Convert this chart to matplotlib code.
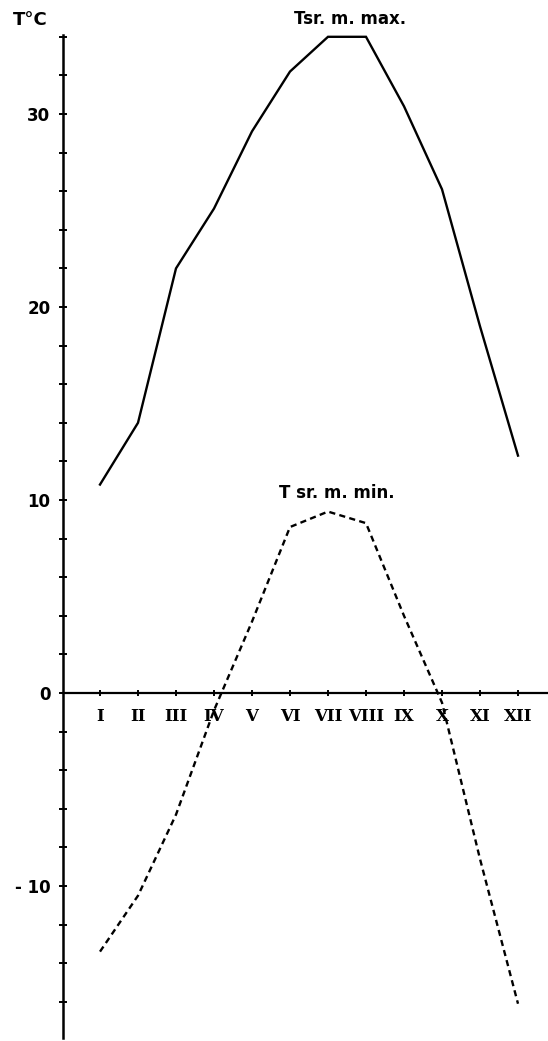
import matplotlib
matplotlib.use("Agg")
import matplotlib.pyplot as plt
import numpy as np

months = ["I", "II", "III", "IV", "V", "VI", "VII", "VIII", "IX", "X", "XI", "XII"]
t_max = [10.8, 14.0, 22.0, 25.1, 29.1, 32.2, 34.0, 34.0, 30.4, 26.1, 19.0, 12.3]
t_min = [-13.4, -10.5, -6.3, -0.9, 3.7, 8.6, 9.4, 8.8, 4.0, -0.5, -8.6, -16.1]
y_major = [-10, 0, 10, 20, 30]
y_major_labels = ["- 10", "0", "10", "20", "30"]

W, H = 548, 1041
fig = plt.figure(figsize=(W / 100, H / 100), dpi=100)
x0, x1 = 63, 548
y_top, y_bot = 35, 1038
ax = fig.add_axes([x0 / W, 1 - y_bot / H, (x1 - x0) / W, (y_bot - y_top) / H])

px_per_month = 38.0
xmin = 1 - (100 - x0) / px_per_month
xmax = xmin + (x1 - x0) / px_per_month
ax.set_xlim(xmin, xmax)
px_per_unit = 19.3
ymax = (693 - y_top) / px_per_unit
ymin = -(y_bot - 693) / px_per_unit
ax.set_ylim(ymin, ymax)

xs = np.arange(1, 13)
ax.plot(xs, t_max, color="black", lw=1.7, solid_joinstyle="miter")
ax.plot(xs, t_min, color="black", lw=1.7, linestyle=(0, (2.6, 1.8)))

for s in ["top", "right"]:
    ax.spines[s].set_visible(False)
ax.spines["left"].set_linewidth(1.8)
ax.spines["bottom"].set_position(("data", 0))
ax.spines["bottom"].set_linewidth(1.6)

ax.set_xticks(xs)
ax.set_xticklabels(months, fontfamily="DejaVu Serif", fontweight="bold", fontsize=12)
ax.tick_params(axis="x", direction="inout", length=5, width=1.4, pad=8)

ax.set_yticks(np.arange(-16, 35, 2), minor=True)
ax.set_yticks(y_major)
ax.set_yticklabels(y_major_labels, fontfamily="DejaVu Sans", fontweight="bold", fontsize=12)
ax.tick_params(axis="y", which="both", direction="inout", length=6, width=1.4, pad=6)

fig.text(30 / W, 1 - 20 / H, "T°C", fontsize=13, fontweight="bold", ha="center", va="center")
fig.text(350 / W, 1 - 19 / H, "Tsr. m. max.", fontsize=12, fontweight="bold", ha="center", va="center")
fig.text(337 / W, 1 - 493 / H, "T sr. m. min.", fontsize=12, fontweight="bold", ha="center", va="center")

fig.savefig("out.png", dpi=100, facecolor="white")
